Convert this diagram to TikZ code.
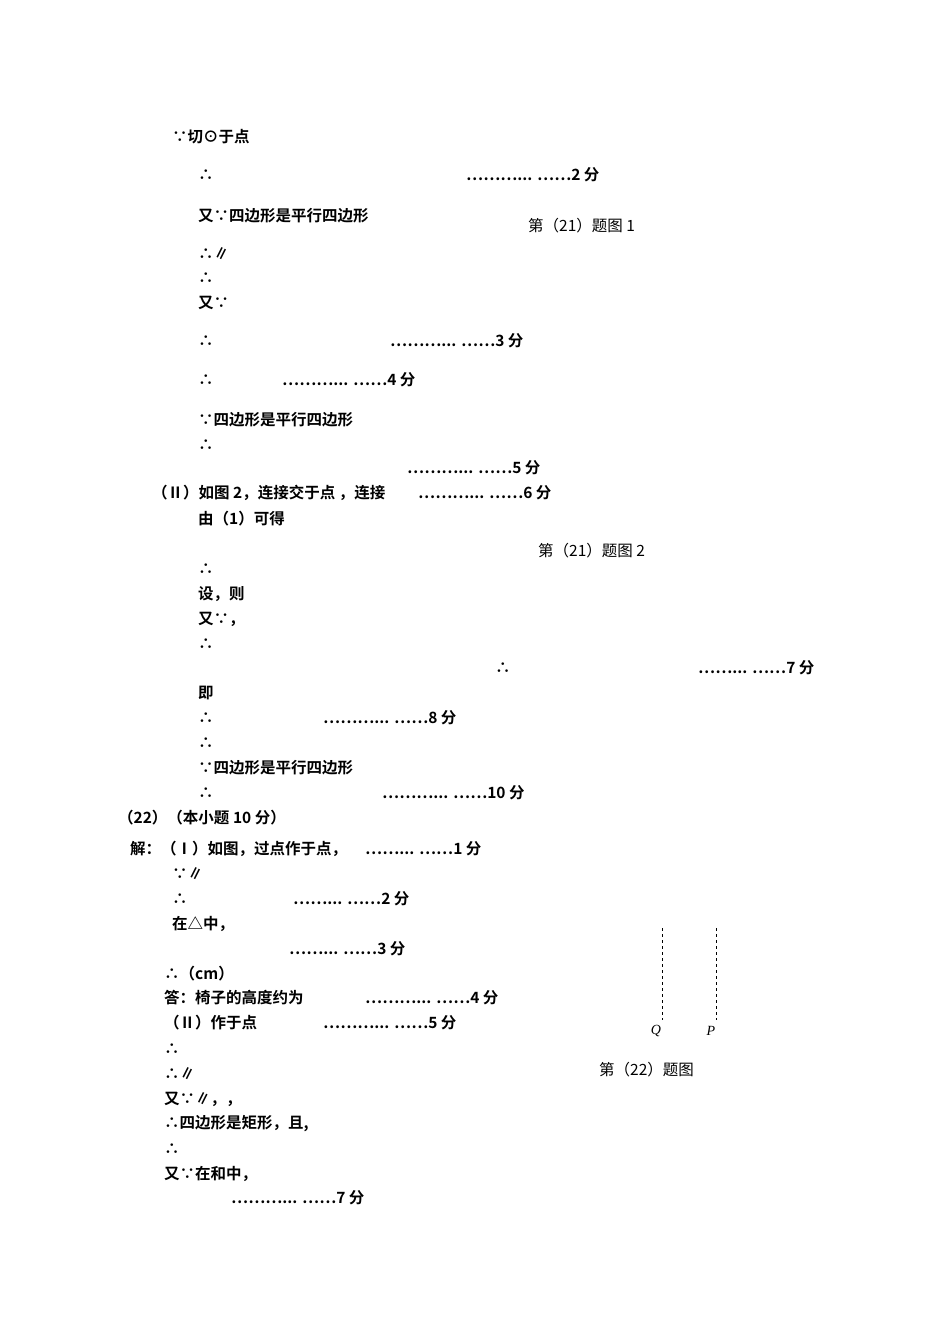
\documentclass[tikz,border=0pt]{standalone}
\usepackage{fontspec}
\setmainfont{Noto Sans CJK SC}[BoldFont={Noto Sans CJK SC Bold}]
\newfontfamily\lserif{Liberation Serif}
\begin{document}
\begin{tikzpicture}[x=1pt,y=-1pt,
  t/.style={anchor=west,inner sep=0pt,font=\fontsize{15.5}{16}\selectfont\bfseries},
  figcap/.style={anchor=west,inner sep=0pt,font=\fontsize{15.5}{16}\selectfont}]
\useasboundingbox (0,0) rectangle (950,1344);
\node[t] (a1) at (172,137) {∵切⊙于点};
\node[t] (a2) at (198,175) {∴};
\node[t] (a3) at (466,175) {………... ……2 分};
\node[t] (a4) at (198,216) {又∵四边形是平行四边形};
\node[figcap] (c1) at (528,226) {第（21）题图 1};
\node[t] (a5) at (198,254) {∴∥};
\node[t] (a6) at (198,278) {∴};
\node[t] (a7) at (198,303) {又∵};
\node[t] (a8) at (198,341) {∴};
\node[t] (a9) at (390,341) {………... ……3 分};
\node[t] (a10) at (198,380) {∴};
\node[t] (a11) at (282,380) {………... ……4 分};
\node[t] (a12) at (198,420) {∵四边形是平行四边形};
\node[t] (a13) at (198,445) {∴};
\node[t] (a14) at (407,468) {………... ……5 分};
\node[t] (a15) at (152,493) {（Ⅱ）如图 2，连接交于点 ，连接};
\node[t] (a16) at (418,493) {………... ……6 分};
\node[t] (a17) at (198,519) {由（1）可得};
\node[figcap] (c2) at (538,551) {第（21）题图 2};
\node[t] (a18) at (198,569) {∴};
\node[t] (a19) at (198,594) {设，则};
\node[t] (a20) at (198,619) {又∵，};
\node[t] (a21) at (198,644) {∴};
\node[t] (a22) at (495,668) {∴};
\node[t] (a23) at (698,668) {……... ……7 分};
\node[t] (a24) at (198,693) {即};
\node[t] (a25) at (198,718) {∴};
\node[t] (a26) at (323,718) {………... ……8 分};
\node[t] (a27) at (198,743) {∴};
\node[t] (a28) at (198,768) {∵四边形是平行四边形};
\node[t] (a29) at (198,793) {∴};
\node[t] (a30) at (382,793) {………... ……10 分};
\node[t] (b1) at (118,818) {（22）（本小题 10 分）};
\node[t] (b2) at (130,849) {解：（Ⅰ）如图，过点作于点，};
\node[t] (b3) at (365,849) {……... ……1 分};
\node[t] (b4) at (172,874) {∵∥};
\node[t] (b5) at (172,899) {∴};
\node[t] (b6) at (293,899) {……... ……2 分};
\node[t] (b7) at (172,924) {在△中，};
\node[t] (b8) at (289,949) {……... ……3 分};
\node[t] (b9) at (164,974) {∴（cm）};
\node[t] (b10) at (164,998) {答：椅子的高度约为};
\node[t] (b11) at (365,998) {………... ……4 分};
\node[t] (b12) at (164,1023) {（Ⅱ）作于点};
\node[t] (b13) at (323,1023) {………... ……5 分};
\node[t] (b14) at (164,1049) {∴};
\node[t] (b15) at (164,1074) {∴∥};
\node[t] (b16) at (164,1099) {又∵∥，，};
\node[t] (b17) at (164,1124) {∴四边形是矩形，且,};
\node[t] (b18) at (164,1149) {∴};
\node[t] (b19) at (164,1174) {又∵在和中，};
\node[t] (b20) at (231,1198) {………... ……7 分};
\coordinate (q1) at (662,928); \coordinate (q2) at (662,1020);
\coordinate (p1) at (716,928); \coordinate (p2) at (716,1020);
\draw[dashed,line width=0.8pt] (q1) -- (q2);
\draw[dashed,line width=0.8pt] (p1) -- (p2);
\node[anchor=center,inner sep=0pt,font=\lserif\itshape\fontsize{14}{14}\selectfont] (Q) at (656,1031) {Q};
\node[anchor=center,inner sep=0pt,font=\lserif\itshape\fontsize{14}{14}\selectfont] (P) at (711,1031) {P};
\node[figcap] (c3) at (599,1070) {第（22）题图};
\end{tikzpicture}
\end{document}
